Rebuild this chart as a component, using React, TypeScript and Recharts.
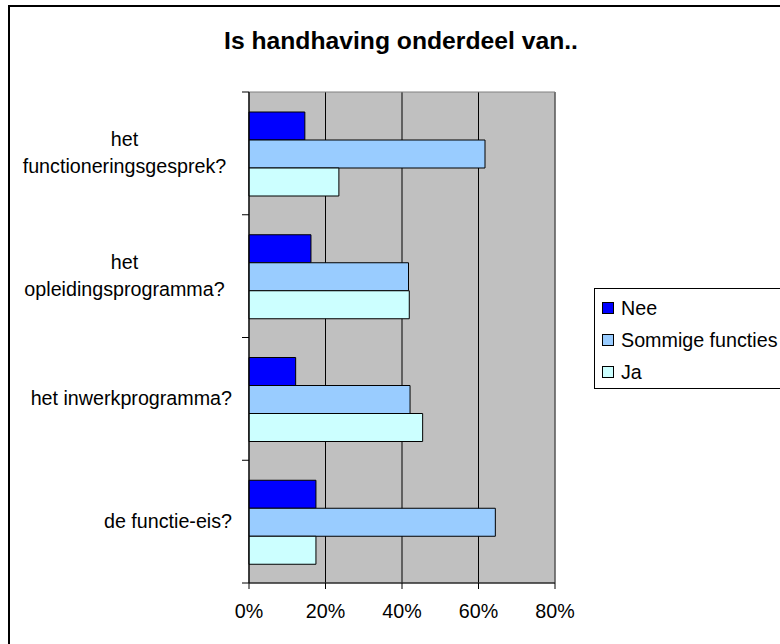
import React from 'react';
import {
  BarChart,
  Bar,
  XAxis,
  YAxis,
  CartesianGrid,
  ReferenceArea,
  Legend,
} from 'recharts';

const categories = [
  'het functioneringsgesprek?',
  'het opleidingsprogramma?',
  'het inwerkprogramma?',
  'de functie-eis?',
];
const nee = [14.6, 16.2, 12.2, 17.5];
const sommigeFuncties = [61.7, 41.7, 42.1, 64.4];
const ja = [23.5, 41.9, 45.4, 17.5];
const xTicks = [0, 20, 40, 60, 80];

const seriesNames = ['Nee', 'Sommige functies', 'Ja'];
const seriesColors = ['#0000FF', '#99CCFF', '#CCFFFF'];

const FONT = '"Liberation Sans", Arial, sans-serif';
const W = 780;
const H = 644;
const MARGIN = { top: 92, right: 225, bottom: 31, left: 0 };
const Y_AXIS_W = 249;
const X_AXIS_H = 30;
const PLOT_H = H - MARGIN.top - MARGIN.bottom - X_AXIS_H;

const data = categories.map((name, i) => ({
  name,
  nee: nee[i],
  sommige: sommigeFuncties[i],
  ja: ja[i],
}));

// category label centred in its band, tick marks on the band borders
function CategoryTick(props: any) {
  const { x, y, payload, index, visibleTicksCount } = props;
  const half = payload?.offset || PLOT_H / categories.length / 2;
  const labelW = 215;
  return (
    <g>
      <line x1={x - 7} y1={y - half} x2={x} y2={y - half} stroke="#000" />
      {index === visibleTicksCount - 1 && (
        <line x1={x - 7} y1={y + half} x2={x} y2={y + half} stroke="#000" />
      )}
      <foreignObject x={x - 17 - labelW} y={y - half} width={labelW} height={half * 2}>
        <div
          style={{
            width: labelW,
            height: half * 2,
            display: 'flex',
            alignItems: 'center',
            justifyContent: 'flex-end',
          }}
        >
          <div
            style={{
              textAlign: 'center',
              fontFamily: FONT,
              fontSize: 19.7,
              lineHeight: '27px',
              color: '#000',
            }}
          >
            {payload.value}
          </div>
        </div>
      </foreignObject>
    </g>
  );
}

function LegendBox() {
  return (
    <div
      style={{
        border: '1px solid #000',
        background: '#fff',
        width: 220,
        height: 96,
        boxSizing: 'content-box',
        paddingTop: 3,
        fontFamily: FONT,
        fontSize: 19.7,
        color: '#000',
      }}
    >
      {seriesNames.map((name, i) => (
        <div
          key={name}
          style={{ display: 'flex', alignItems: 'center', height: 32, paddingLeft: 7 }}
        >
          <span
            style={{
              display: 'inline-block',
              width: 10,
              height: 10,
              border: '1px solid #000',
              background: seriesColors[i],
              marginRight: 7,
            }}
          />
          <span>{name}</span>
        </div>
      ))}
    </div>
  );
}

export default function App() {
  return (
    <div
      style={{
        position: 'fixed',
        left: 0,
        top: 0,
        width: W,
        height: H,
        overflow: 'hidden',
        background: '#fff',
      }}
    >
      <div
        style={{
          position: 'absolute',
          left: 8,
          top: 5,
          width: 800,
          height: 700,
          border: '2px solid #000',
        }}
      />
      <div
        style={{
          position: 'absolute',
          left: 0,
          top: 29,
          width: 802,
          textAlign: 'center',
          fontFamily: FONT,
          fontWeight: 'bold',
          fontSize: 24.7,
          lineHeight: 1,
          color: '#000',
        }}
      >
        Is handhaving onderdeel van..
      </div>
      <div style={{ position: 'absolute', left: 0, top: 0 }}>
        <BarChart
          width={W}
          height={H}
          data={data}
          layout="vertical"
          margin={MARGIN}
          barCategoryGap="16.3%"
          barGap={0}
        >
          <CartesianGrid horizontal={false} stroke="#000" fill="#C0C0C0" fillOpacity={1} />
          <ReferenceArea x1={0} x2={80} fill="none" stroke="#808080" strokeWidth={1} />
          <Bar dataKey="nee" name={seriesNames[0]} fill={seriesColors[0]} stroke="#000" strokeWidth={1} isAnimationActive={false} />
          <Bar dataKey="sommige" name={seriesNames[1]} fill={seriesColors[1]} stroke="#000" strokeWidth={1} isAnimationActive={false} />
          <Bar dataKey="ja" name={seriesNames[2]} fill={seriesColors[2]} stroke="#000" strokeWidth={1} isAnimationActive={false} />
          <XAxis
            type="number"
            domain={[0, 80]}
            ticks={xTicks}
            tickFormatter={(v: number) => `${v}%`}
            height={X_AXIS_H}
            axisLine={{ stroke: '#000' }}
            tickLine={{ stroke: '#000' }}
            tickSize={6}
            tickMargin={15}
            tick={{ fill: '#000', fontSize: 19.7, fontFamily: FONT }}
          />
          <YAxis
            type="category"
            dataKey="name"
            width={Y_AXIS_W}
            axisLine={{ stroke: '#000' }}
            tickLine={false}
            tickSize={0}
            tickMargin={0}
            interval={0}
            tick={(p: any) => <CategoryTick {...p} />}
          />
          <Legend
            layout="horizontal"
            align="center"
            verticalAlign="middle"
            content={() => <LegendBox />}
            wrapperStyle={{ left: 594, top: 288, width: 230 }}
          />
        </BarChart>
      </div>
    </div>
  );
}
